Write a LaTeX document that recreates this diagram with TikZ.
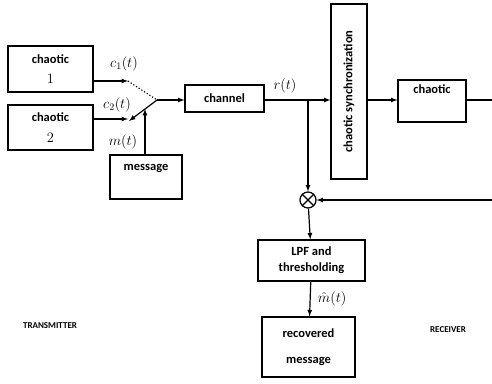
\documentclass[tikz,border=0pt]{standalone}
\usepackage{fontspec}
\setmainfont{Carlito}
\usepackage{tikz}
\usetikzlibrary{arrows,shapes}

\tikzset{
	blk/.style={draw,line width=1.2pt,font=\bfseries\fontsize{12.5}{14}\selectfont,align=center,inner sep=0pt},
	sig/.style={font=\fontsize{14}{16}\selectfont},
	side/.style={font=\bfseries\fontsize{9}{11}\selectfont}
}

\begin{document}
\begin{tikzpicture}[x=1pt,y=-1pt,line width=1.2pt,>=latex]
		\useasboundingbox (0,0) rectangle (492,383);
		% transmitter boxes
		\node[blk,minimum width=85,minimum height=46] (G1) at (50.5,69) {chaotic\\[6pt]{\mdseries\fontsize{14}{14}\selectfont $1$}};
		\node[blk,minimum width=85,minimum height=45] (G2) at (50.5,127.5) {chaotic\\[7pt]{\mdseries\fontsize{14}{14}\selectfont $2$}};
		\node[blk,minimum width=72,minimum height=44] (M) at (146,177) {message\\[6pt]{}};
		\node[blk,minimum width=79,minimum height=27] (Ch) at (224.5,98.5) {channel};
		% receiver boxes
		\node[blk,minimum width=36,minimum height=175] (S) at (349,91.5) {\rotatebox{90}{chaotic synchronization}};
		\node[blk,minimum width=68,minimum height=42] (G3) at (432,101) {chaotic\\[10pt]{}};
		\node[draw,circle,line width=1.2pt,minimum size=16,inner sep=0pt] (X) at (308,200) {};
		\node[blk,minimum width=107,minimum height=41] (L) at (311.5,260.5) {LPF and\\[2pt]thresholding};
		\node[blk,minimum width=93,minimum height=60] (R) at (308.5,347) {recovered\\[12pt]message};
		% switch and junctions
		\coordinate (s1) at (128,81);
		\coordinate (s2) at (128,119);
		\coordinate (p) at (157,100);
		\coordinate (lev) at (129,121);
		\coordinate (lm) at (145,109);
		\coordinate (j) at (308,100);
		\coordinate (o1) at (492,100);
		\coordinate (o2) at (492,200);
		%
		\draw (X.north west) -- (X.south east) (X.north east) -- (X.south west);
		\draw[dotted] (s1) -- (p);
		\path[->]
		% transmitter arrows
		(G1.east |- s1) edge (s1)
		(G2.east |- s2) edge (s2)
		(p) edge (lev)
		(M.north -| lm) edge (lm)
		(p) edge (Ch.west |- p)
		% receiver arrows
		(j) edge (S.west |- j)
		(S.east |- j) edge (G3.west |- j)
		(o2) edge (X)
		(j) edge (X)
		(X) edge (L)
		(L) edge (R);
		\draw (Ch.east |- j) -- (j);
		\draw (G3.east |- j) -- (o1);
		% labels
		\node[sig] (lc1) at (124,64) {$c_1(t)$};
		\node[sig] (lc2) at (117,105) {$c_2(t)$};
		\node[sig] (lm1) at (123,142) {$m(t)$};
		\node[sig] (lr) at (285,86) {$r(t)$};
		\node[sig,anchor=west] (lmh) at (314,299) {$\hat{m}(t)$};
		\node[side] (tx) at (50,326) {TRANSMITTER};
		\node[side] (rx) at (448,330) {RECEIVER};
	\end{tikzpicture}
\end{document}
